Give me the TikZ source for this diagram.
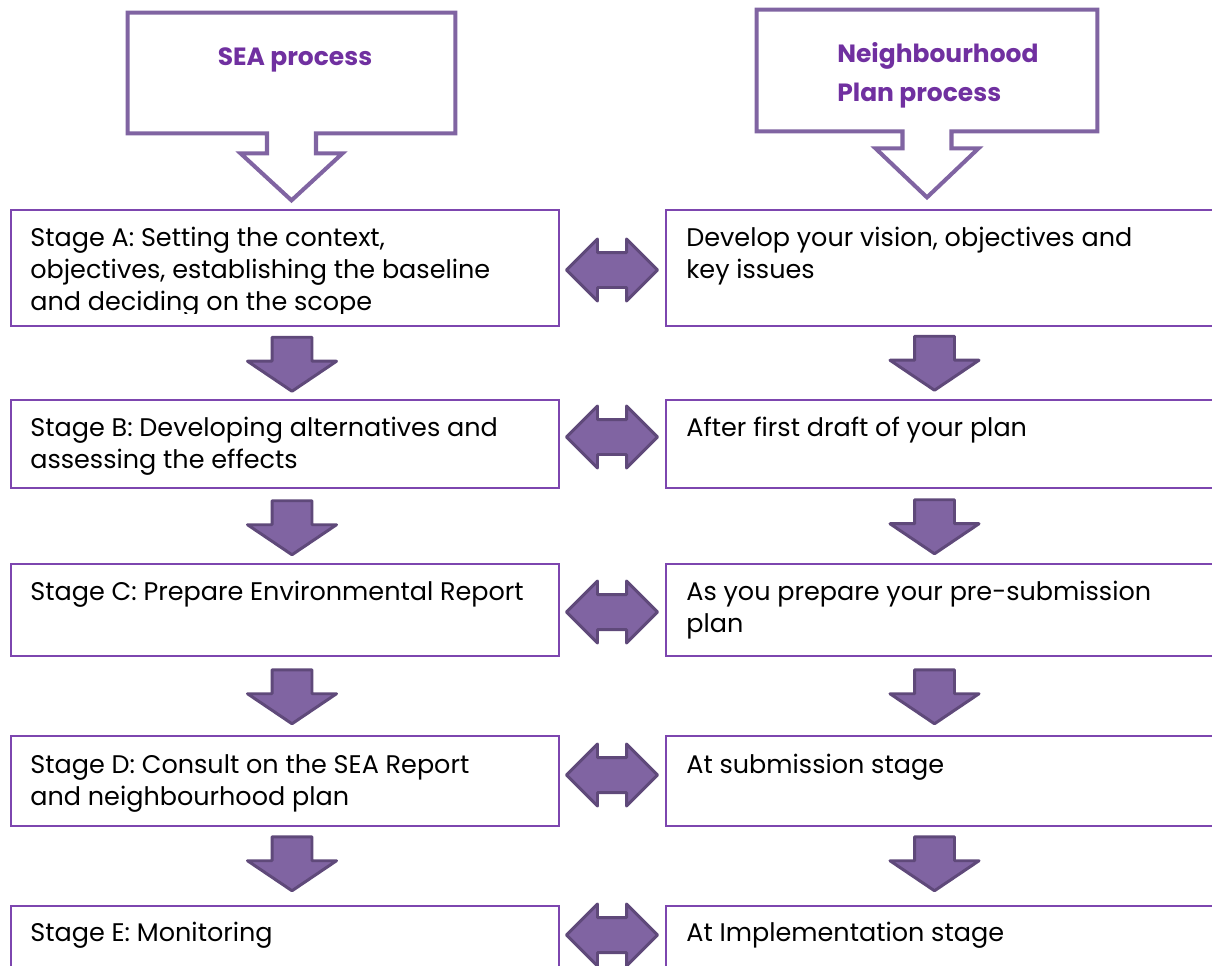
\documentclass[tikz,border=0pt]{standalone}
\usepackage{fontspec}
\setmainfont{Poppins}
\usetikzlibrary{shapes.arrows, positioning}

\definecolor{boxline}{RGB}{125,70,175}
\definecolor{hdrline}{RGB}{128,100,162}
\definecolor{hdrtext}{RGB}{112,48,160}
\definecolor{blkfill}{RGB}{128,100,162}
\definecolor{blkline}{RGB}{95,73,122}

\begin{document}
\begin{tikzpicture}[
        stagebox/.style={rectangle, draw=boxline, line width=1.1pt, anchor=north west, inner sep=0pt},
        stagetext/.style={anchor=north west, align=left, inner sep=0pt, font=\fontsize{14.5}{18.1}\selectfont},
        hdrframe/.style={draw=hdrline, line width=2.3pt, line join=miter},
        hdrlabel/.style={text=hdrtext, align=left, inner sep=0pt, font=\fontsize{14.2}{22}\selectfont\bfseries},
        downblk/.style={single arrow, rotate=-90, fill=blkfill, draw=blkline, line width=1.7pt, line join=round,
            minimum height=1.08cm, minimum width=1.72cm, inner xsep=0pt, inner ysep=0.37cm,
            single arrow head extend=0.49cm, single arrow tip angle=112, single arrow head indent=0pt},
        twoway/.style={double arrow, fill=blkfill, draw=blkline, line width=1.7pt, line join=round,
            minimum height=1.82cm, minimum width=1.18cm, inner xsep=0pt, inner ysep=0.32cm,
            double arrow head extend=0.27cm, double arrow tip angle=90, double arrow head indent=0pt}
    ]
        \clip (0,0) rectangle (24.24,-19.3);

        % headers
        \node at (5.83,-1.46) [minimum width=6.54cm, minimum height=2.4cm] (seahdr) {};
        \node at (5.9,-1.2) [hdrlabel] (seatitle) {SEA process};
        \draw[hdrframe] ([xshift=-0.49cm]seahdr.south) -| (seahdr.north west) -| (seahdr.south east)
            -- ([xshift=0.49cm]seahdr.south) -- ++(0,-0.4) -- ++(0.53,0) -- ++(-1.02,-0.94) -- ++(-1.02,0.94) -- ++(0.53,0) -- cycle;

        \node at (18.54,-1.41) [minimum width=6.8cm, minimum height=2.42cm] (nphdr) {};
        \node at (16.74,-1.5) [hdrlabel, anchor=west] (nptitle) {Neighbourhood\\Plan process};
        \draw[hdrframe] ([xshift=-0.49cm]nphdr.south) -| (nphdr.north west) -| (nphdr.south east)
            -- ([xshift=0.49cm]nphdr.south) -- ++(0,-0.34) -- ++(0.54,0) -- ++(-1.03,-0.98) -- ++(-1.03,0.98) -- ++(0.54,0) -- cycle;

        % SEA stages
        \node at (0.2,-4.18)  [stagebox, minimum width=10.96cm, minimum height=2.32cm] (sa) {};
        \node at (0.2,-7.98)  [stagebox, minimum width=10.96cm, minimum height=1.76cm] (sb) {};
        \node at (0.2,-11.26) [stagebox, minimum width=10.96cm, minimum height=1.84cm] (sc) {};
        \node at (0.2,-14.70) [stagebox, minimum width=10.96cm, minimum height=1.80cm] (sd) {};
        \node at (0.2,-18.10) [stagebox, minimum width=10.96cm, minimum height=2.00cm] (se) {};

        \begin{scope}
            \clip (sa.north west) rectangle ([yshift=0.26cm]sa.south east);
            \node at ([shift={(0.4,-0.36)}]sa.north west) [stagetext] (sa_txt) {Stage A: Setting the context,\\objectives, establishing the baseline\\and deciding on the scope};
        \end{scope}
        \begin{scope}
            \clip (sb.north west) rectangle ([yshift=0.24cm]sb.south east);
            \node at ([shift={(0.4,-0.36)}]sb.north west) [stagetext] (sb_txt) {Stage B: Developing alternatives and\\assessing the effects};
        \end{scope}
        \node at ([shift={(0.4,-0.36)}]sc.north west) [stagetext] (sc_txt) {Stage C: Prepare Environmental Report};
        \node at ([shift={(0.4,-0.38)}]sd.north west) [stagetext] (sd_txt) {Stage D: Consult on the SEA Report\\and neighbourhood plan};
        \node at ([shift={(0.4,-0.34)}]se.north west) [stagetext] (se_txt) {Stage E: Monitoring};

        % plan stages
        \node at (13.3,-4.18)  [stagebox, minimum width=11.5cm, minimum height=2.32cm] (na) {};
        \node at (13.3,-7.98)  [stagebox, minimum width=11.5cm, minimum height=1.76cm] (nb) {};
        \node at (13.3,-11.26) [stagebox, minimum width=11.5cm, minimum height=1.84cm] (nc) {};
        \node at (13.3,-14.70) [stagebox, minimum width=11.5cm, minimum height=1.80cm] (nd) {};
        \node at (13.3,-18.10) [stagebox, minimum width=11.5cm, minimum height=2.00cm] (ne) {};

        \node at ([shift={(0.42,-0.36)}]na.north west) [stagetext] (na_txt) {Develop your vision, objectives and\\key issues};
        \node at ([shift={(0.42,-0.36)}]nb.north west) [stagetext] (nb_txt) {After first draft of your plan};
        \node at ([shift={(0.42,-0.36)}]nc.north west) [stagetext] (nc_txt) {As you prepare your pre-submission\\plan};
        \node at ([shift={(0.42,-0.38)}]nd.north west) [stagetext] (nd_txt) {At submission stage};
        \node at ([shift={(0.42,-0.34)}]ne.north west) [stagetext] (ne_txt) {At Implementation stage};

        % down arrows
        \node at (5.84,-7.15)  [downblk] (sab) {};
        \node at (5.84,-10.42) [downblk] (sbc) {};
        \node at (5.84,-13.80) [downblk] (scd) {};
        \node at (5.84,-17.14) [downblk] (sde) {};
        \node at (18.69,-7.13)  [downblk] (nab) {};
        \node at (18.69,-10.40) [downblk] (nbc) {};
        \node at (18.69,-13.80) [downblk] (ncd) {};
        \node at (18.69,-17.14) [downblk] (nde) {};

        % two-way arrows
        \node at (12.24,-5.40)  [twoway] (ab) {};
        \node at (12.24,-8.74)  [twoway] (bb) {};
        \node at (12.24,-12.24) [twoway] (cb) {};
        \node at (12.24,-15.50) [twoway] (db) {};
        \node at (12.24,-18.70) [twoway] (eb) {};

    \end{tikzpicture}
\end{document}
